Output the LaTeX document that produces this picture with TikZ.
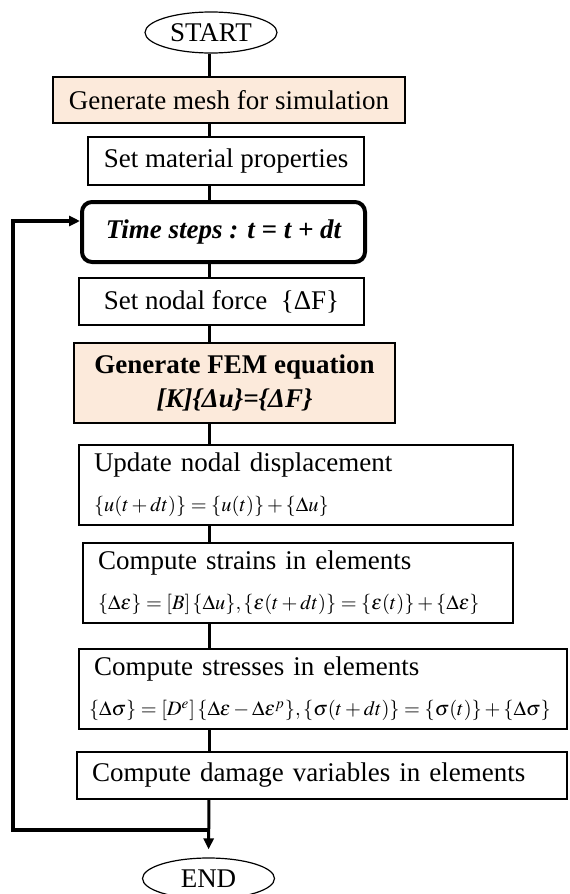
\documentclass[tikz,border=0pt]{standalone}
\usepackage{mathptmx}
\usepackage{fontspec}
\setmainfont{Liberation Serif}
\usetikzlibrary{shapes.geometric,arrows.meta}
\definecolor{meshpeach}{RGB}{252,234,219}
\newcommand{\eqline}[1]{\mbox{\fontsize{10.2}{13}\selectfont $#1$}}
\begin{document}
\begin{tikzpicture}[
		x=0.5pt, y=-0.5pt,
		font=\fontsize{13.5}{17}\selectfont,
		term/.style={ellipse, draw, line width=0.6pt, minimum width=66pt, minimum height=20.5pt, inner sep=0pt},
		proc/.style={rectangle, draw, line width=0.6pt, align=center, inner sep=0pt},
		calc/.style={rectangle, draw, line width=0.6pt, align=left, inner xsep=7.5pt, inner ysep=0pt},
		flow/.style={line width=1.5pt},
		back/.style={line width=1.75pt, -{Triangle[length=5.5pt, width=5pt]}}
		]
		\useasboundingbox (0,0) rectangle (569,894);
		\coordinate (trunk) at (209,0);
		
		% Start, set-up steps and the time loop header
		\node[term] (start) at (211,32.5) {START};
		\node[proc, fill=meshpeach, minimum width=176pt, minimum height=23pt] (mesh) at (229,100) {Generate mesh for simulation};
		\node[proc, minimum width=138pt, minimum height=24pt] (mat) at (226,161) {Set material properties};
		\node[proc, line width=2pt, rounded corners=5pt, minimum width=141.5pt, minimum height=30pt] (time) at (223.5,232) {\bfseries\itshape Time steps : t = t + dt};
		\node[proc, minimum width=142.5pt, minimum height=23.5pt] (force) at (221.5,301.5) {Set nodal force \ \{ΔF\}};
		\node[proc, fill=meshpeach, minimum width=160.5pt, minimum height=40pt] (fem) at (234.5,383) {\textbf{Generate FEM equation}\\\textbf{\textit{[K]\{Δu\}=\{ΔF\}}}};
		
		% Boxes with a formula line below the text
		\node[calc, text width=202pt, minimum height=40pt] (upd) at (296,485) {Update nodal displacement\\[3pt]
			\eqline{\{u(t+dt)\}=\{u(t)\}+\{\Delta u\}}};
		\node[calc, text width=200pt, minimum height=40pt] (strain) at (298,583) {Compute strains in elements\\[3pt]
			\eqline{\{\Delta\varepsilon\}=[B]\,\{\Delta u\},\{\varepsilon(t+dt)\}=\{\varepsilon(t)\}+\{\Delta\varepsilon\}}};
		\node[calc, inner xsep=5pt, text width=234pt, minimum height=40pt] (stress) at (323,689) {\hspace*{2.5pt}Compute stresses in elements\\[3pt]
			\eqline{\{\Delta\sigma\}=[D^e]\,\{\Delta\varepsilon-\Delta\varepsilon^p\},\{\sigma(t+dt)\}=\{\sigma(t)\}+\{\Delta\sigma\}}};
		\node[calc, text width=230pt, minimum height=23.5pt] (dmg) at (322,775.5) {Compute damage variables in elements};
		\node[term] (end) at (208.5,878.5) {END};
		
		% Trunk connectors between consecutive boxes
		\foreach \a/\b in {start/mesh, mesh/mat, mat/time, time/force, force/fem, fem/upd, upd/strain, strain/stress, stress/dmg}
			\draw[flow] (\a.south -| trunk) -- (\b.north -| trunk);
		\draw[flow, -{Triangle[length=5.5pt, width=5pt]}, shorten >=4pt] (dmg.south -| trunk) -- (end.north);
		
		% Loop back to the time step
		\coordinate (join) at (209,830);
		\coordinate (bend) at (13,830);
		\draw[back] (join) -- (bend) |- ([yshift=5.5pt]time.west);
	\end{tikzpicture}
\end{document}
